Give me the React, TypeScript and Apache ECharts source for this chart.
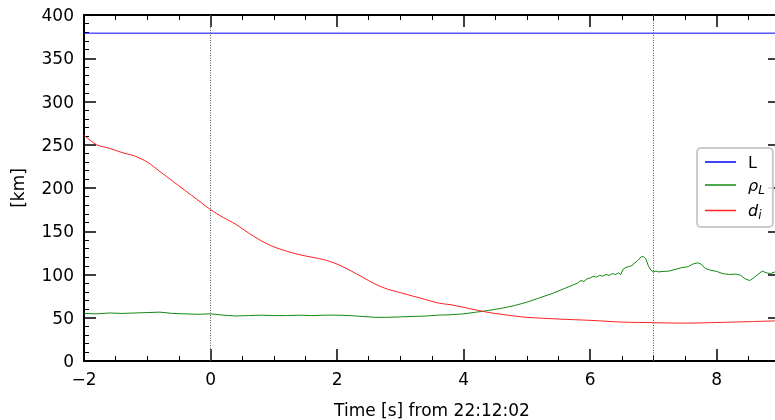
import React, { useEffect, useRef } from "react";
import * as echarts from "echarts";

const xTicks = [-2, 0, 2, 4, 6, 8];
const markTimes = [0, 7];

const lTimes = [-2, 9];
const lValues = [379, 379];

const diTimes = [-2, -1.8, -1.6, -1.4, -1.2, -1.0, -0.8, -0.6, -0.4, -0.2, 0, 0.2, 0.4, 0.6, 0.8, 1.0, 1.2, 1.4, 1.6, 1.8, 2.0, 2.2, 2.4, 2.6, 2.8, 3.0, 3.2, 3.4, 3.6, 3.8, 4.0, 4.2, 4.4, 4.6, 4.8, 5.0, 5.5, 6, 6.5, 7, 7.5, 8, 8.5, 9];
const diValues = [261, 250, 246, 241, 237, 230, 219, 208, 197, 186, 175, 166, 158, 148, 139, 132, 127, 123, 120, 117, 112, 105, 97, 89, 83, 79, 75, 71, 67, 65, 62, 59, 56, 54, 52, 50.5, 48.5, 47, 45, 44.3, 43.8, 44.5, 45.5, 46.5];

const rhoTimes = [-2, -1.8, -1.6, -1.4, -1.2, -1.0, -0.8, -0.6, -0.4, -0.2, 0, 0.2, 0.4, 0.6, 0.8, 1.0, 1.2, 1.4, 1.6, 1.8, 2.0, 2.2, 2.4, 2.6, 2.8, 3.0, 3.2, 3.4, 3.6, 3.8, 4.0, 4.2, 4.4, 4.6, 4.8, 5.0, 5.2, 5.4, 5.6, 5.7, 5.8, 5.85, 5.9, 5.95, 6.0, 6.05, 6.1, 6.15, 6.2, 6.25, 6.3, 6.35, 6.4, 6.45, 6.48, 6.52, 6.56, 6.6, 6.65, 6.7, 6.75, 6.8, 6.84, 6.88, 6.92, 6.96, 7.0, 7.04, 7.08, 7.15, 7.25, 7.35, 7.45, 7.55, 7.62, 7.7, 7.75, 7.82, 7.9, 8.0, 8.1, 8.2, 8.3, 8.38, 8.45, 8.52, 8.58, 8.65, 8.72, 8.78, 8.85, 8.92, 9.0];
const rhoValues = [55, 54.5, 55.5, 55, 55.5, 56, 56.5, 55, 54.5, 54, 54.5, 53, 52, 52.5, 53, 52.5, 52.5, 53, 52.5, 53, 53, 52.5, 51.5, 50.5, 50.5, 51, 51.5, 52, 53, 53.5, 54.5, 56.5, 58.5, 61, 64, 68, 73, 78, 84, 87, 90, 93, 92, 95, 96, 98, 97, 99, 98, 100, 99, 101, 100, 102, 100, 106, 108, 109, 110, 113, 116, 120, 121, 118, 110, 105, 103, 104, 103, 103.5, 104, 106, 108, 109, 112, 113.5, 112, 107, 105, 103.5, 101, 100, 100.5, 99, 95, 93, 96, 100, 104, 102, 101, 103, 101];

const zip = (t: number[], v: number[]) => t.map((x, i) => [x, v[i]]);

const FONT = "DejaVu Sans";

export default function App() {
  const ref = useRef<HTMLDivElement>(null);
  useEffect(() => {
    if (!ref.current) return;
    const chart = echarts.init(ref.current, null, { renderer: "svg" });
    const tickCommon = {
      axisLine: { show: true, onZero: false, lineStyle: { color: "#000", width: 2 } },
      splitLine: { show: false },
    };
    const xBase = {
      type: "value" as const,
      min: -2,
      max: 9,
      interval: 2,
      ...tickCommon,
      axisTick: { inside: true, length: 12, lineStyle: { color: "#000", width: 1.5 } },
      minorTick: { show: true, splitNumber: 4, length: 5, lineStyle: { color: "#000", width: 1 } },
    };
    const yBase = {
      type: "value" as const,
      min: 0,
      max: 400,
      interval: 50,
      ...tickCommon,
      axisTick: { inside: true, length: 12, lineStyle: { color: "#000", width: 1.5 } },
      minorTick: { show: true, splitNumber: 5, length: 5, lineStyle: { color: "#000", width: 1 } },
    };
    const legendNames: Record<string, string> = {
      L: "{n|L}",
      rho: "{it|ρ}{sub|L}",
      di: "{it|d}{sub|i}",
    };
    chart.setOption({
      animation: false,
      textStyle: { fontFamily: FONT },
      grid: { left: 84, top: 15, width: 696, height: 346, containLabel: false, outerBoundsMode: "none" },
      xAxis: [
        {
          ...xBase,
          position: "bottom",
          name: "Time [s] from 22:12:02",
          nameLocation: "middle",
          nameGap: 40,
          nameTextStyle: { fontSize: 17, color: "#000", fontFamily: FONT },
          axisLabel: {
            fontSize: 17,
            color: "#000",
            margin: 9,
            fontFamily: FONT,
            showMaxLabel: false,
            formatter: (v: number) => (xTicks.includes(v) ? String(v).replace("-", "\u2212") : ""),
          },
        },
        {
          ...xBase,
          position: "top",
          axisLabel: { show: false },
        },
      ],
      yAxis: [
        {
          ...yBase,
          position: "left",
          name: "[km]",
          nameLocation: "middle",
          nameGap: 58,
          nameTextStyle: { fontSize: 17, color: "#000", fontFamily: FONT },
          axisLabel: { fontSize: 17, color: "#000", margin: 10, fontFamily: FONT },
        },
        {
          ...yBase,
          position: "right",
          axisLabel: { show: false },
        },
      ],
      legend: {
        orient: "vertical",
        left: 697,
        top: 148,
        padding: [6, 8, 6, 8],
        itemGap: 7,
        itemWidth: 31,
        itemHeight: 1.5,
        icon: "rect",
        itemStyle: { borderWidth: 0 },
        borderColor: "#cccccc",
        borderWidth: 2,
        borderRadius: 4,
        backgroundColor: "rgba(255,255,255,0.85)",
        textStyle: {
          fontSize: 16,
          color: "#000",
          fontFamily: FONT,
          padding: [0, 0, 0, 7],
          rich: {
            n: { fontSize: 16, fontFamily: FONT, color: "#000" },
            it: { fontSize: 16, fontStyle: "italic", fontFamily: FONT, color: "#000" },
            sub: { fontSize: 12, fontStyle: "italic", fontFamily: FONT, color: "#000", padding: [9, 0, 0, 0] },
          },
        },
        formatter: (name: string) => legendNames[name] ?? name,
        data: ["L", "rho", "di"],
      },
      series: [
        {
          name: "L",
          type: "line",
          data: zip(lTimes, lValues),
          symbol: "none",
          lineStyle: { color: "#0000ff", width: 1 },
          itemStyle: { color: "#0000ff" },
          markLine: {
            silent: true,
            symbol: "none",
            label: { show: false },
            lineStyle: { color: "#555", type: [1, 1.5], width: 1 },
            data: markTimes.map((t) => ({ xAxis: t })),
          },
        },
        {
          name: "rho",
          type: "line",
          data: zip(rhoTimes, rhoValues),
          symbol: "none",
          lineStyle: { color: "#108a10", width: 1 },
          itemStyle: { color: "#108a10" },
        },
        {
          name: "di",
          type: "line",
          data: zip(diTimes, diValues),
          symbol: "none",
          smooth: 0.3,
          lineStyle: { color: "#ff2020", width: 1 },
          itemStyle: { color: "#ff2020" },
        },
      ],
    });
    return () => chart.dispose();
  }, []);
  return <div ref={ref} style={{ position: "fixed", left: 0, top: 0, width: 775, height: 420 }} />;
}
